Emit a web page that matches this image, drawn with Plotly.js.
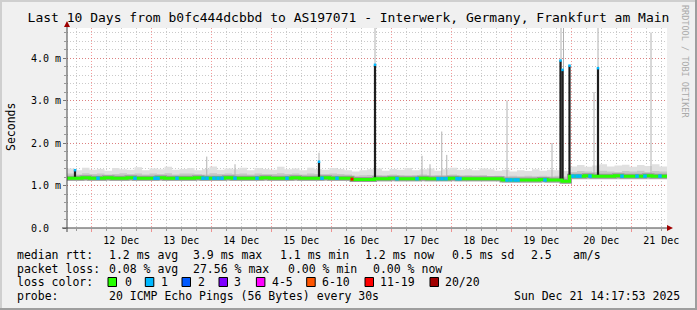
<!DOCTYPE html>
<html><head><meta charset="utf-8">
<script src="https://cdn.plot.ly/plotly-3.0.1.min.js"></script>
<style>html,body{margin:0;padding:0;background:#f0f0f0;} #chart{width:697px;height:310px;}</style>
</head><body><div id="chart"></div>
<script>
// ---------------- DATA ----------------
const titleText = 'Last 10 Days from b0fc444dcbbd to AS197071 - Interwerk, Germany, Frankfurt am Main';
const rangeStart = '2025-12-11 14:17:53';
const rangeEnd = '2025-12-21 14:17:53';
const sampleStart = '2025-12-11 14:18:00';
const sampleStepMs = 10800000; // 3 hours between samples

const median = [
 1.17,1.17,1.18,1.17,1.17,1.18,1.17,1.17,
 1.18,1.17,1.17,1.17,1.18,1.17,1.17,1.17,
 1.17,1.18,1.17,1.17,1.17,1.18,1.17,1.17,
 1.17,1.17,1.18,1.17,1.17,1.17,1.18,1.17,
 1.17,1.17,1.18,1.17,1.17,1.17,1.14,1.14,
 1.14,1.16,1.16,1.17,1.16,1.16,1.16,1.17,
 1.16,1.16,1.16,1.17,1.16,1.16,1.16,1.16,
 1.16,1.16,1.13,1.13,1.13,1.13,1.13,1.14,
 1.13,1.13,1.10,1.22,1.22,1.23,1.22,1.22,
 1.22,1.23,1.22,1.22,1.22,1.23,1.22,1.22,1.22];
const smokeTop = [
 1.40,1.36,1.42,1.37,1.39,1.35,1.41,1.38,
 1.37,1.43,1.36,1.40,1.38,1.44,1.37,1.39,
 1.41,1.36,1.39,1.45,1.37,1.40,1.38,1.42,
 1.36,1.41,1.39,1.37,1.44,1.38,1.40,1.36,
 1.42,1.38,1.37,1.41,1.39,1.36,1.33,1.36,
 1.38,1.40,1.35,1.39,1.37,1.41,1.36,1.38,
 1.40,1.35,1.38,1.42,1.37,1.39,1.36,1.40,
 1.38,1.35,1.37,1.33,1.36,1.34,1.38,1.35,
 1.37,1.36,1.34,1.45,1.48,1.44,1.47,1.50,
 1.45,1.47,1.49,1.44,1.48,1.46,1.50,1.45,1.47];
const smokeMid = [
 1.28,1.26,1.29,1.27,1.28,1.26,1.27,1.29,
 1.27,1.28,1.26,1.28,1.27,1.29,1.26,1.28,
 1.28,1.27,1.26,1.29,1.27,1.28,1.27,1.28,
 1.26,1.28,1.27,1.27,1.29,1.27,1.28,1.26,
 1.28,1.27,1.27,1.28,1.27,1.26,1.23,1.24,
 1.25,1.25,1.24,1.26,1.25,1.24,1.25,1.26,
 1.24,1.25,1.25,1.26,1.24,1.25,1.24,1.25,
 1.22,1.23,1.22,1.23,1.22,1.23,1.22,1.23,
 1.22,1.23,1.21,1.32,1.34,1.33,1.32,1.35,
 1.33,1.32,1.34,1.33,1.35,1.32,1.34,1.33,1.33];
const smokeLow = [
 1.11,1.11,1.11,1.11,1.11,1.11,1.11,1.11,
 1.11,1.11,1.11,1.11,1.11,1.11,1.11,1.11,
 1.11,1.11,1.11,1.11,1.11,1.11,1.11,1.11,
 1.11,1.11,1.11,1.11,1.11,1.11,1.11,1.11,
 1.11,1.11,1.11,1.11,1.11,1.11,1.08,1.08,
 1.08,1.10,1.10,1.10,1.10,1.10,1.10,1.10,
 1.10,1.10,1.10,1.10,1.10,1.10,1.10,1.10,
 1.10,1.10,1.07,1.07,1.07,1.07,1.07,1.07,
 1.07,1.07,1.04,1.15,1.15,1.15,1.15,1.15,
 1.15,1.15,1.15,1.15,1.15,1.15,1.15,1.15,1.15];

const darkSpikeTimes = ['2025-12-11 17:30','2025-12-15 19:06','2025-12-16 17:30','2025-12-19 19:42','2025-12-19 20:30','2025-12-19 23:18','2025-12-20 10:42'];
const darkSpikeLow  = [1.17,1.17,1.16,1.13,1.13,1.11,1.22];
const darkSpikeHigh = [1.36,1.56,3.84,3.94,3.72,3.82,3.76];

const greySpikeTimes = ['2025-12-13 22:12','2025-12-14 09:30','2025-12-16 17:30','2025-12-17 12:18','2025-12-17 15:30','2025-12-17 20:12','2025-12-17 22:12','2025-12-18 22:18','2025-12-19 16:18','2025-12-19 19:54','2025-12-19 20:54','2025-12-20 09:06','2025-12-20 10:42','2025-12-21 07:54','2025-12-15 19:06'];
const greySpikeLow  = [1.16,1.16,1.16,1.16,1.16,1.16,1.16,1.14,1.14,1.14,1.14,1.22,1.22,1.22,1.17];
const greySpikeHigh = [1.68,1.50,4.80,1.70,1.50,2.27,1.72,3.00,2.00,4.80,4.80,3.20,4.80,4.60,1.77];

const loss1Times = ['2025-12-12 02:42','2025-12-12 17:30','2025-12-13 01:30','2025-12-13 02:42','2025-12-13 10:18','2025-12-13 20:42','2025-12-13 22:18','2025-12-14 01:06','2025-12-14 02:42','2025-12-14 04:18','2025-12-14 09:30','2025-12-14 18:18','2025-12-15 06:18','2025-12-15 20:18','2025-12-16 02:18','2025-12-17 02:18','2025-12-17 10:18','2025-12-17 18:42','2025-12-17 20:18','2025-12-17 21:54','2025-12-18 02:18','2025-12-18 03:30','2025-12-18 22:18','2025-12-18 23:54','2025-12-19 01:30','2025-12-19 02:42','2025-12-19 13:30','2025-12-20 00:42','2025-12-20 02:18','2025-12-20 03:30','2025-12-20 07:30','2025-12-20 20:18','2025-12-21 02:18','2025-12-21 05:30','2025-12-21 11:30'];
const loss1Values = [1.17,1.17,1.17,1.17,1.17,1.17,1.17,1.17,1.17,1.17,1.17,1.17,1.17,1.17,1.17,1.16,1.16,1.16,1.16,1.16,1.16,1.16,1.13,1.13,1.13,1.13,1.13,1.22,1.22,1.22,1.22,1.22,1.22,1.22,1.22];
const loss11Times = ['2025-12-16 08:18'];
const loss11Values = [1.15];

const yTickVals = [0, 1, 2, 3, 4];
const yTickLabels = ['0.0\u00a0\u00a0', '1.0 m', '2.0 m', '3.0 m', '4.0 m'];
const yTitle = 'Seconds';
const watermark = 'RRDTOOL / TOBI OETIKER';

const statRow1 = ['median rtt:', '1.2 ms avg', '3.9 ms max', '1.1 ms min', '1.2 ms now', '0.5 ms sd', '2.5', 'am/s'];
const statRow2 = ['packet loss:', '0.08 % avg', '27.56 % max', '0.00 % min', '0.00 % now'];
const lossLabel = 'loss color:';
const lossNames = ['0', '1', '2', '3', '4-5', '6-10', '11-19', '20/20'];
const lossColors = ['#26ff00', '#00b8ff', '#0059ff', '#7e00ff', '#ff00ff', '#ff5500', '#ff0000', '#a10000'];
const probeRow = ['probe:', '20 ICMP Echo Pings (56 Bytes) every 30s'];
const stampText = 'Sun Dec 21 14:17:53 2025';

// ---------------- LAYOUT HELPERS ----------------
const W = 697, H = 310, L = 67, R = 667, T = 28, B = 228;
const px = x => (x - L) / (R - L);
const py = y => (B - y) / (B - T);
const MONO = 'DejaVu Sans Mono';

const row1X = [16.4, 107.6, 192.4, 279, 364, 451, 530, 572];
const row2X = [16.4, 107.6, 192.4, 286.7, 372.4];
const boxX = [108, 145.3, 182, 219, 256.4, 306.7, 365, 430];
const lossNameX = [123.6, 160, 197, 233, 271, 321, 379, 444];
const rowY = [255, 268.5, 282, 295.5];

const annotations = [];
const txt = (t, x, y, anchor) => annotations.push({text: t, xref: 'paper', yref: 'paper', x: px(x), y: py(y), xanchor: anchor || 'left', yanchor: 'middle', showarrow: false, borderpad: 0, font: {family: MONO, size: 11.5, color: '#000'}});
statRow1.forEach((t, i) => txt(t, row1X[i], rowY[0]));
statRow2.forEach((t, i) => txt(t, row2X[i], rowY[1]));
txt(lossLabel, 16.4, rowY[2]);
lossNames.forEach((t, i) => txt(t, lossNameX[i], rowY[2]));
txt(probeRow[0], 16.4, rowY[3]);
txt(probeRow[1], 107.6, rowY[3]);
txt(stampText, 681, rowY[3], 'right');
annotations.push({text: yTitle, xref: 'paper', yref: 'paper', x: px(11), y: py(127), textangle: -90, showarrow: false, xanchor: 'center', yanchor: 'middle', font: {family: MONO, size: 11.5, color: '#000'}});
annotations.push({text: watermark, xref: 'paper', yref: 'paper', x: px(685), y: py(61), textangle: 90, showarrow: false, xanchor: 'center', yanchor: 'middle', font: {family: MONO, size: 8.5, color: '#aaaaaa'}});

const shapes = [];
const rect = (x0, y0, x1, y1, fill, line) => shapes.push({type: 'rect', xref: 'paper', yref: 'paper', x0: px(x0), x1: px(x1), y0: py(y0), y1: py(y1), fillcolor: fill, line: line || {width: 0}, layer: 'above'});
rect(0, 0, W, 2, '#cfcfcf');
rect(0, 0, 2, H, '#cfcfcf');
rect(0, H - 2, W, H, '#9e9e9e');
rect(W - 2, 0, W, H, '#9e9e9e');
lossColors.forEach((c, i) => rect(boxX[i], 277.5, boxX[i] + 8.5, 286.5, c, {color: '#000', width: 1}));
shapes.push({type: 'line', xref: 'paper', yref: 'paper', x0: px(62), x1: px(669), y0: 0, y1: 0, line: {color: '#444', width: 1}});
shapes.push({type: 'line', xref: 'paper', yref: 'paper', x0: 0, x1: 0, y0: py(232), y1: py(25), line: {color: '#444', width: 1}});
const P = (x, y) => px(x) + ',' + py(y);
shapes.push({type: 'path', xref: 'paper', yref: 'paper', path: 'M' + P(67, 21) + ' L' + P(64, 27) + ' L' + P(70, 27) + ' Z', fillcolor: '#a00000', line: {width: 0}});
shapes.push({type: 'path', xref: 'paper', yref: 'paper', path: 'M' + P(673, 228) + ' L' + P(667, 225) + ' L' + P(667, 231) + ' Z', fillcolor: '#a00000', line: {width: 0}});

// ---------------- TRACES ----------------
const segments = (times, lows, highs) => {
  const xs = [], ys = [];
  times.forEach((t, i) => { xs.push(t, t, null); ys.push(lows[i], highs[i], null); });
  return {x: xs, y: ys};
};
const greySeg = segments(greySpikeTimes, greySpikeLow, greySpikeHigh);
const darkSeg = segments(darkSpikeTimes, darkSpikeLow, darkSpikeHigh);
const band = (y, fill, color) => ({type: 'scatter', mode: 'lines', x0: sampleStart, dx: sampleStepMs, y: y, line: {width: 0, shape: 'hv'}, fill: fill, fillcolor: color, hoverinfo: 'skip', showlegend: false});
const traces = [
  band(smokeLow, 'none'),
  band(smokeTop, 'tonexty', '#e0e0e0'),
  band(smokeLow, 'none'),
  band(smokeMid, 'tonexty', '#c6c6c6'),
  {type: 'scatter', mode: 'lines', x: greySeg.x, y: greySeg.y, connectgaps: false, line: {width: 1, color: '#b0b0b0'}, showlegend: false},
  {type: 'scatter', mode: 'lines', x0: sampleStart, dx: sampleStepMs, y: median, line: {width: 5, shape: 'hv', color: '#9a9a9a'}, showlegend: false},
  {type: 'scatter', mode: 'lines', x: darkSeg.x, y: darkSeg.y, connectgaps: false, line: {width: 2.2, color: '#1e1e1e'}, showlegend: false},
  {type: 'scatter', mode: 'lines', x0: sampleStart, dx: sampleStepMs, y: median, line: {width: 3, shape: 'hv', color: lossColors[0]}, showlegend: false},
  {type: 'scatter', mode: 'markers', x: loss1Times, y: loss1Values, marker: {symbol: 'square', size: 3.5, color: lossColors[1], line: {width: 0}}, showlegend: false},
  {type: 'scatter', mode: 'markers', x: loss11Times, y: loss11Values, marker: {symbol: 'square', size: 3, color: lossColors[6], line: {width: 0}}, showlegend: false},
  {type: 'scatter', mode: 'markers', x: darkSpikeTimes, y: darkSpikeHigh, marker: {symbol: 'square', size: 2.5, color: lossColors[1], line: {width: 0}}, showlegend: false}
];

const gridRed = 'rgba(235,70,70,0.55)';
const gridGrey = 'rgba(150,150,150,0.5)';
const layout = {
  width: W, height: H,
  margin: {l: L, r: W - R, t: T, b: H - B, pad: 0},
  paper_bgcolor: '#f0f0f0', plot_bgcolor: '#ffffff',
  showlegend: false,
  title: {text: titleText, font: {family: MONO, size: 13, color: '#000'}, x: 0.5, xref: 'container', xanchor: 'center', y: 1 - 17 / H, yref: 'container', yanchor: 'middle'},
  xaxis: {type: 'date', range: [rangeStart, rangeEnd], tick0: '2025-12-12', dtick: 86400000, ticklabelmode: 'period', tickformat: '%d %b',
    showgrid: true, gridcolor: gridRed, griddash: '1px,2px', gridwidth: 1, zeroline: false, showline: false,
    ticks: 'outside', ticklen: 3, tickcolor: gridRed, tickfont: {family: MONO, size: 10, color: '#000'},
    minor: {dtick: 21600000, tick0: '2025-12-12', showgrid: true, gridcolor: gridGrey, griddash: '1px,2px', ticks: 'outside', ticklen: 2, tickcolor: '#999'},
    fixedrange: true},
  yaxis: {range: [0, (B - T) / 42.5], tickvals: yTickVals, ticktext: yTickLabels,
    showgrid: true, gridcolor: gridRed, griddash: '1px,2px', zeroline: false, showline: false,
    ticks: 'outside', ticklen: 3, tickcolor: '#777', tickfont: {family: MONO, size: 10, color: '#000'},
    minor: {dtick: 0.2, showgrid: true, gridcolor: gridGrey, griddash: '1px,2px', ticks: 'outside', ticklen: 2, tickcolor: '#999'},
    fixedrange: true},
  annotations: annotations,
  shapes: shapes
};
Plotly.newPlot('chart', traces, layout, {staticPlot: true, displayModeBar: false});
</script></body></html>
